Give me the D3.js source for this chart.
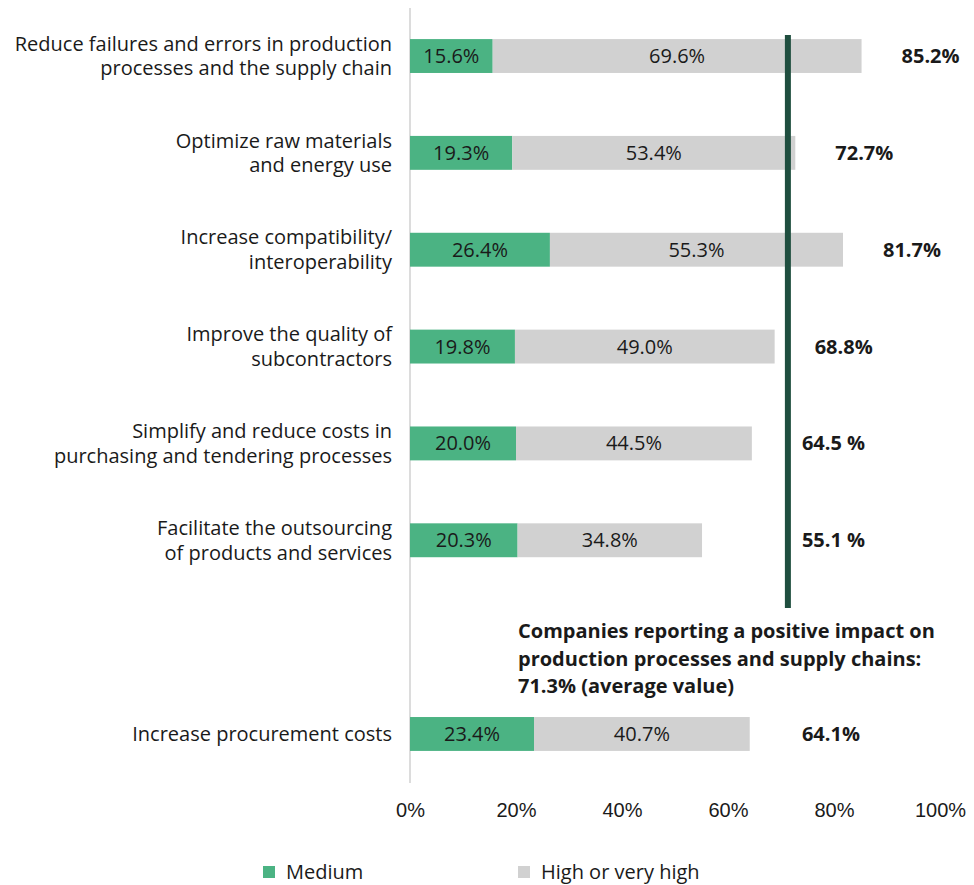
<!DOCTYPE html>
<html>
<head>
<meta charset="utf-8">
<script src="https://cdn.jsdelivr.net/npm/d3@7"></script>
<style>
  body { margin: 0; background: #fff; }
  svg { display: block; font-family: "Open Sans", "Noto Sans", sans-serif; }
</style>
</head>
<body>
<svg id="chart" width="974" height="885"></svg>
<script>
// Benefit categories (an empty slot holds the average note)
const categories = [
  ["Reduce failures and errors in production", "processes and the supply chain"],
  ["Optimize raw materials", "and energy use"],
  ["Increase compatibility/", "interoperability"],
  ["Improve the quality of", "subcontractors"],
  ["Simplify and reduce costs in", "purchasing and tendering processes"],
  ["Facilitate the outsourcing", "of products and services"],
  null,
  ["Increase procurement costs"]
];
const medium = [15.6, 19.3, 26.4, 19.8, 20.0, 20.3, null, 23.4];
const high   = [69.6, 53.4, 55.3, 49.0, 44.5, 34.8, null, 40.7];
const totalLabels = ["85.2%", "72.7%", "81.7%", "68.8%", "64.5 %", "55.1 %", null, "64.1%"];
const averageValue = 71.3;
const averageNote = [
  "Companies reporting a positive impact on",
  "production processes and supply chains:",
  "71.3% (average value)"
];
const xTicks = [0, 20, 40, 60, 80, 100];
const seriesNames = ["Medium", "High or very high"];
const colors = { medium: "#4bb383", high: "#d1d1d1", avg: "#1f4e3f", axis: "#dcdcdc", text: "#1a1a1a" };

const FS = 20;
const svg = d3.select("#chart");
const x = d3.scaleLinear().domain([0, 100]).range([410, 940]);
const y = d3.scaleBand().domain(d3.range(categories.length)).range([7.6, 782.4]).paddingInner(0.65).paddingOuter(0.325);

const rows = d3.range(categories.length).filter(i => categories[i]);

// vertical baseline
svg.append("line")
  .attr("x1", x(0)).attr("x2", x(0))
  .attr("y1", 8).attr("y2", 783)
  .attr("stroke", colors.axis).attr("stroke-width", 2);

// stacked bars
const g = svg.append("g");
rows.forEach(i => {
  const yc = y(i) + y.bandwidth() / 2;
  g.append("rect")
    .attr("x", x(0)).attr("y", y(i))
    .attr("width", x(medium[i]) - x(0)).attr("height", y.bandwidth())
    .attr("fill", colors.medium);
  g.append("rect")
    .attr("x", x(medium[i])).attr("y", y(i))
    .attr("width", x(medium[i] + high[i]) - x(medium[i])).attr("height", y.bandwidth())
    .attr("fill", colors.high);
  g.append("text")
    .attr("x", (x(0) + x(medium[i])) / 2).attr("y", yc)
    .attr("text-anchor", "middle").attr("dy", "0.35em")
    .attr("font-size", FS).attr("fill", colors.text)
    .text(medium[i].toFixed(1) + "%");
  g.append("text")
    .attr("x", (x(medium[i]) + x(medium[i] + high[i])) / 2).attr("y", yc)
    .attr("text-anchor", "middle").attr("dy", "0.35em")
    .attr("font-size", FS).attr("fill", colors.text)
    .text(high[i].toFixed(1) + "%");
});

// average line
svg.append("line")
  .attr("x1", x(averageValue)).attr("x2", x(averageValue))
  .attr("y1", 35).attr("y2", 608)
  .attr("stroke", colors.avg).attr("stroke-width", 6);

// totals
rows.forEach(i => {
  const end = x(medium[i] + high[i]);
  let lx = end + 40;
  if (lx < x(averageValue) + 14 && end + 40 > x(averageValue) - 70) lx = x(averageValue) + 14;
  svg.append("text")
    .attr("x", lx).attr("y", y(i) + y.bandwidth() / 2)
    .attr("dy", "0.35em").attr("font-size", FS).attr("font-weight", 700)
    .attr("fill", colors.text)
    .text(totalLabels[i]);
});

// category labels
rows.forEach(i => {
  const lines = categories[i];
  const yc = y(i) + y.bandwidth() / 2;
  const t = svg.append("text")
    .attr("text-anchor", "end").attr("font-size", FS).attr("fill", colors.text);
  lines.forEach((ln, k) => {
    t.append("tspan")
      .attr("x", 392)
      .attr("y", yc + (k - (lines.length - 1) / 2) * 24.5)
      .attr("dy", "0.35em")
      .text(ln);
  });
});

// average note
const note = svg.append("text").attr("font-size", FS).attr("font-weight", 700).attr("fill", colors.text);
averageNote.forEach((ln, k) => {
  note.append("tspan").attr("x", 518).attr("y", 638 + k * 27.5).text(ln);
});

// x axis labels
const axis = d3.axisBottom(x).tickValues(xTicks).tickFormat(d => d + "%").tickSize(0).tickPadding(0);
const ax = svg.append("g").attr("transform", "translate(0,803)").call(axis);
ax.select(".domain").remove();
ax.selectAll("text").attr("font-size", FS).attr("fill", colors.text).attr("font-family", null);

// legend
const legend = svg.append("g");
[[colors.medium, 263], [colors.high, 518]].forEach(([c, lx], k) => {
  legend.append("rect").attr("x", lx).attr("y", 866).attr("width", 12).attr("height", 12).attr("fill", c);
  legend.append("text").attr("x", lx + 23).attr("y", 872).attr("dy", "0.35em")
    .attr("font-size", FS).attr("fill", colors.text).text(seriesNames[k]);
});
</script>
</body>
</html>
